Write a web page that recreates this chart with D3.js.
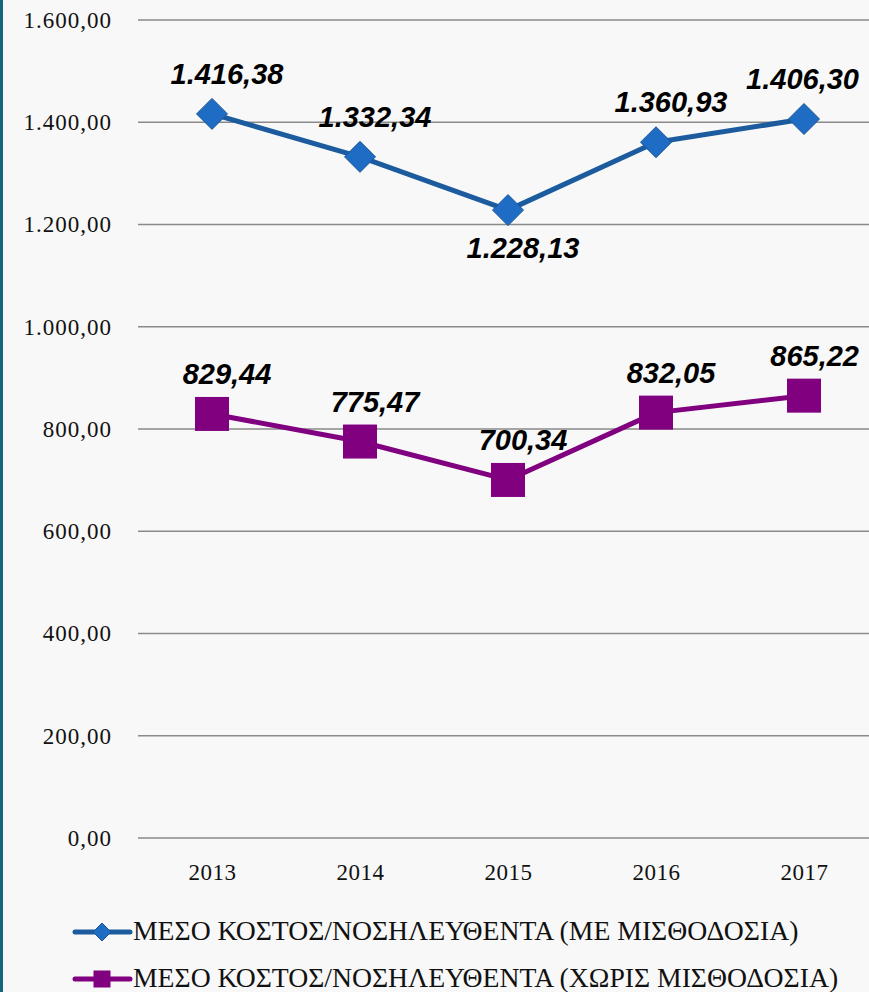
<!DOCTYPE html>
<html>
<head>
<meta charset="utf-8">
<script src="https://cdn.jsdelivr.net/npm/d3@7"></script>
<style>
  html, body { margin: 0; padding: 0; background: #f8f8f8; }
  svg { display: block; }
</style>
</head>
<body>
<svg width="869" height="992"></svg>
<script>
// chart data
var years = ["2013", "2014", "2015", "2016", "2017"];
var withSalary = [1416.38, 1332.34, 1228.13, 1360.93, 1406.30];
var withoutSalary = [829.44, 775.47, 700.34, 832.05, 865.22];
var yTicks = [0, 200, 400, 600, 800, 1000, 1200, 1400, 1600];
var seriesNames = [
  "ΜΕΣΟ ΚΟΣΤΟΣ/ΝΟΣΗΛΕΥΘΕΝΤΑ (ΜΕ ΜΙΣΘΟΔΟΣΙΑ)",
  "ΜΕΣΟ ΚΟΣΤΟΣ/ΝΟΣΗΛΕΥΘΕΝΤΑ (ΧΩΡΙΣ ΜΙΣΘΟΔΟΣΙΑ)"
];

var width = 869, height = 992;
var plotLeft = 138, plotRight = 878, plotTop = 20, plotBottom = 838;
var serif = "'Liberation Serif', 'Times New Roman', serif";

var svg = d3.select("svg");

svg.append("rect")
  .attr("width", width).attr("height", height)
  .attr("fill", "#f8f8f8");
svg.append("rect")
  .attr("x", 0).attr("y", 0).attr("width", 3).attr("height", height)
  .attr("fill", "#17667f");

var x = d3.scalePoint().domain(years).range([plotLeft, plotRight]).padding(0.5);
var y = d3.scaleLinear().domain([0, 1600]).range([plotBottom, plotTop]);

// greek number format 1.416,38
var fmt = d3.formatLocale({ decimal: ",", thousands: ".", grouping: [3], currency: ["", "€"] }).format(",.2f");

// y labels
var yAxis = d3.axisLeft(y).tickValues(yTicks).tickSize(0).tickFormat(fmt);
var gy = svg.append("g").attr("transform", "translate(112,0)").call(yAxis);
gy.select(".domain").remove();
gy.selectAll("text")
  .attr("x", 0).attr("dy", "0.32em")
  .style("font-family", serif)
  .style("font-size", "23px")
  .style("letter-spacing", "1px")
  .attr("fill", "#111");

// gridlines
svg.append("g").selectAll("line")
  .data(yTicks).join("line")
  .attr("x1", plotLeft).attr("x2", plotRight)
  .attr("y1", d => y(d)).attr("y2", d => y(d))
  .attr("stroke", "#8a8a8a").attr("stroke-width", 1.5);

// x labels
var xAxis = d3.axisBottom(x).tickSize(0);
var gx = svg.append("g").attr("transform", "translate(0,864)").call(xAxis);
gx.select(".domain").remove();
gx.selectAll("text")
  .attr("y", 0).attr("dy", "0.71em")
  .style("font-family", serif)
  .style("font-size", "23px")
  .style("letter-spacing", "0.5px")
  .attr("fill", "#111");

var series = [
  { name: seriesNames[0], values: withSalary, line: "#1b5b9e", fill: "#1f6cc4", shape: "diamond" },
  { name: seriesNames[1], values: withoutSalary, line: "#800080", fill: "#800080", shape: "square" }
];

function marker(g, s, cx, cy, big) {
  if (s.shape == "diamond") {
    var r = big ? 15.5 : 9;
    g.append("path")
      .attr("d", `M${cx},${cy - r}L${cx + r},${cy}L${cx},${cy + r}L${cx - r},${cy}Z`)
      .attr("fill", s.fill).attr("stroke", "#1a5596").attr("stroke-width", 1);
  } else {
    var h = big ? 17 : 8.5;
    g.append("rect")
      .attr("x", cx - h).attr("y", cy - h).attr("width", 2 * h).attr("height", 2 * h)
      .attr("fill", s.fill);
  }
}

var line = d3.line().x((d, i) => x(years[i])).y(d => y(d));

series.forEach(function(s) {
  var g = svg.append("g");
  g.append("path")
    .attr("d", line(s.values))
    .attr("fill", "none")
    .attr("stroke", s.line)
    .attr("stroke-width", 5)
    .attr("stroke-linejoin", "round");
  s.values.forEach(function(v, i) {
    marker(g, s, x(years[i]), y(v), true);
  });
});

// data labels (2015 top series sits below its point)
series.forEach(function(s, k) {
  svg.append("g").selectAll("text")
    .data(s.values).join("text")
    .attr("y", (d, i) => (k == 0 && i == 2) ? y(d) + 48 : y(d) - 30)
    .attr("text-anchor", "middle")
    .style("font-family", "'Liberation Sans', Arial, sans-serif")
    .style("font-size", "29px")
    .style("font-weight", "bold")
    .style("font-style", "italic")
    .attr("fill", "#000")
    .text(d => fmt(d))
    .attr("x", function(d, i) {
      var half = this.getComputedTextLength() / 2;
      return Math.min(x(years[i]) + 15, width - 10 - half);
    });
});

// legend
series.forEach(function(s, k) {
  var ly = 932 + k * 47;
  var g = svg.append("g");
  g.append("line")
    .attr("x1", 75).attr("x2", 130).attr("y1", ly).attr("y2", ly)
    .attr("stroke", s.line).attr("stroke-width", 5).attr("stroke-linecap", "round");
  marker(g, s, 102, ly, false);
  g.append("text")
    .attr("x", 133).attr("y", ly + 8)
    .style("font-family", serif)
    .style("font-size", "27.7px")
    .attr("fill", "#111")
    .text(s.name);
});
</script>
</body>
</html>
